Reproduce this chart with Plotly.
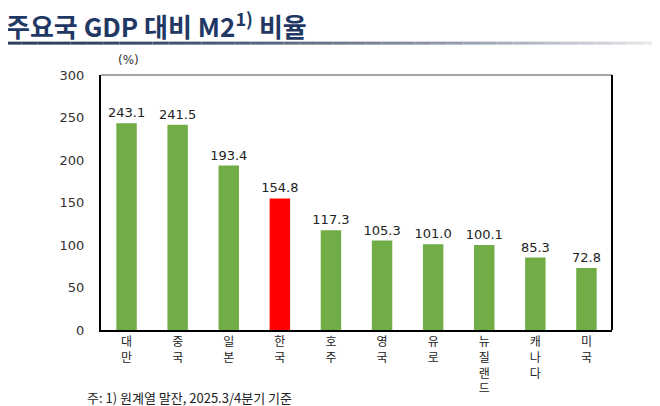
import plotly.graph_objects as go

# data
countries = ["대만", "중국", "일본", "한국", "호주", "영국", "유로", "뉴질랜드", "캐나다", "미국"]
m2_ratio = [243.1, 241.5, 193.4, 154.8, 117.3, 105.3, 101.0, 100.1, 85.3, 72.8]
highlight = "한국"

y_ticks = [0, 50, 100, 150, 200, 250, 300]

GREEN = "#70AD47"
RED = "#FF0000"
NAVY = "#1F3864"

colors = [RED if c == highlight else GREEN for c in countries]
# stack the hangul vertically like the original
tick_text = ["<br>".join(list(c)) for c in countries]

fig = go.Figure()
fig.add_trace(go.Bar(
    x=countries, y=m2_ratio,
    marker=dict(color=colors, line=dict(width=0)),
    text=[f"{v:.1f}" for v in m2_ratio],
    textposition="outside",
    constraintext="none",
    textfont=dict(family="DejaVu Sans", size=13, color="#222222"),
    cliponaxis=False,
    width=0.4,
))

fig.update_xaxes(
    tickmode="array", tickvals=countries, ticktext=tick_text,
    tickfont=dict(family="Noto Sans CJK KR", size=12, color="#222222"),
    showline=True, linecolor="black", linewidth=2, mirror=False,
    ticks="", showgrid=False, automargin=False,
)
fig.update_yaxes(
    range=[0, 300], tickvals=y_ticks,
    tickfont=dict(family="DejaVu Sans", size=13, color="#333333"),
    showline=True, linecolor="black", linewidth=2,
    ticks="", ticklabelstandoff=12, showgrid=False, zeroline=False,
    automargin=False,
)

# frame: gray top, black right
fig.add_shape(type="line", xref="paper", yref="paper", x0=0, x1=1, y0=1, y1=1,
              line=dict(color="#888888", width=1.5))
fig.add_shape(type="line", xref="paper", yref="paper", x0=1, x1=1, y0=0, y1=1,
              line=dict(color="black", width=2))

# title underline, fading navy -> light gray
n_seg = 40
x_start, x_end = -0.188, 1.094
for i in range(n_seg):
    t = (i / (n_seg - 1)) ** 1.6
    r = int(0x2E + (0xE8 - 0x2E) * t)
    g = int(0x3F + (0xE8 - 0x3F) * t)
    b = int(0x5E + (0xEC - 0x5E) * t)
    fig.add_shape(type="line", xref="paper", yref="paper",
                  x0=x_start + (x_end - x_start) * i / n_seg,
                  x1=x_start + (x_end - x_start) * (i + 1) / n_seg,
                  y0=1.125, y1=1.125,
                  line=dict(color=f"rgb({r},{g},{b})", width=3))

fig.add_annotation(text="주요국 GDP 대비 M2<sup style='font-size:13px'>1)</sup> 비율",
                   xref="paper", yref="paper", x=-0.19, y=1.198,
                   xanchor="left", yanchor="middle", showarrow=False,
                   font=dict(family="Noto Sans CJK KR", size=26, color=NAVY, weight="bold"))
fig.add_annotation(text="(%)", xref="paper", yref="paper", x=0.053, y=1.059,
                   xanchor="center", yanchor="middle", showarrow=False,
                   font=dict(family="DejaVu Sans", size=12, color="#333333"))
fig.add_annotation(text="주: 1) 원계열 말잔, 2025.3/4분기 기준",
                   xref="paper", yref="paper", x=-0.031, y=-0.263,
                   xanchor="left", yanchor="middle", showarrow=False,
                   font=dict(family="Noto Sans CJK KR", size=13, color="#222222"))

# page body adds an 8px margin, so the figure is drawn 8px smaller
fig.update_layout(
    width=652, height=398,
    margin=dict(l=93, r=48, t=67, b=76),
    plot_bgcolor="white", paper_bgcolor="white",
    showlegend=False,
    bargap=0.6,
)

fig.write_html("out.html")
